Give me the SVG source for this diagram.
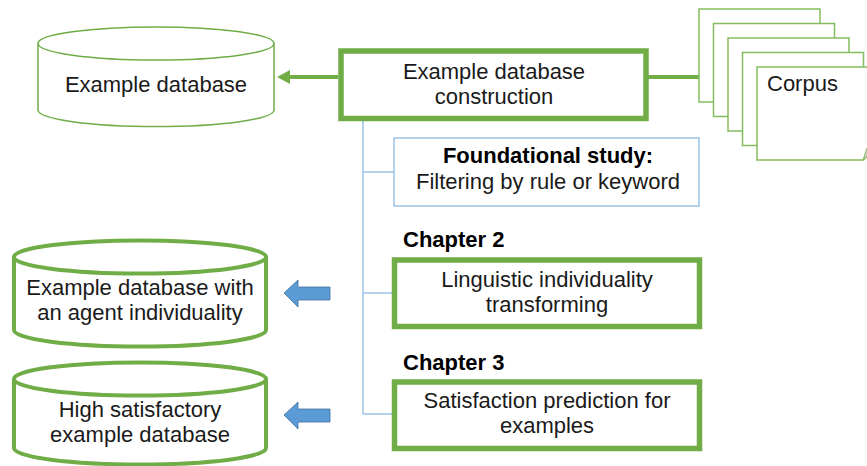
<svg xmlns="http://www.w3.org/2000/svg" width="867" height="466" viewBox="0 0 867 466">
  <style>
    text { font-family: "Liberation Sans", Arial, sans-serif; font-size: 22px; fill: #1a1a1a; }
    .c { text-anchor: middle; }
    .b { font-weight: bold; fill: #000; }
    .box { fill: #fff; stroke: #70AD47; stroke-width: 5.5; }
    .note { fill: #fff; stroke: #9DC3E6; stroke-width: 1.5; }
    .db-thin { fill: #fff; stroke: #70AD47; stroke-width: 1.5; }
    .db-thick { fill: #fff; stroke: #70AD47; stroke-width: 4; }
    .page { fill: #fff; stroke: #84BD5E; stroke-width: 1.5; }
    .tree { fill: none; stroke: #9DC3E6; stroke-width: 1.5; }
    .blk { fill: #5B9BD5; stroke: #41719C; stroke-width: 0.8; }
  </style>

  <!-- connectors -->
  <g id="connectors">
    <line x1="338" y1="77" x2="289" y2="77" stroke="#70AD47" stroke-width="4"/>
    <path d="M277,77 L290,70 L290,84 Z" fill="#70AD47"/>
    <line x1="646" y1="77" x2="700" y2="77" stroke="#70AD47" stroke-width="4"/>
    <path class="tree" d="M363,121 V414 M363,172 H394 M363,293 H392 M363,414 H392"/>
    <path class="blk" d="M284,293 L298,280 L298,287 L330,287 L330,300 L298,300 L298,307 Z"/>
    <path class="blk" d="M284,415 L298,402 L298,409 L330,409 L330,422 L298,422 L298,429 Z"/>
  </g>

  <!-- example database (top) -->
  <g id="db-example">
    <path class="db-thin" d="M38,43.5 V110 A118,16.5 0 0 0 274,110 V43.5"/>
    <ellipse class="db-thin" cx="156" cy="43.5" rx="118" ry="16.5"/>
    <text class="c" x="156" y="92">Example database</text>
  </g>

  <!-- construction step -->
  <g id="construction">
    <rect class="box" x="341" y="51" width="305" height="67.5"/>
    <text class="c" x="494" y="79">Example database</text>
    <text class="c" x="494" y="104">construction</text>
  </g>

  <!-- corpus document stack -->
  <g id="corpus">
    <rect class="page" x="699" y="9" width="121" height="93"/>
    <rect class="page" x="713.5" y="23.5" width="121" height="93"/>
    <rect class="page" x="728" y="38" width="121" height="93"/>
    <rect class="page" x="742.5" y="52.5" width="121" height="93"/>
    <path class="page" d="M757,67 H880 V146 L863,160 H757 Z"/>
    <path d="M863,160 L867,148 L880,146 Z" fill="#c9c9c9" stroke="#84BD5E" stroke-width="1"/>
    <text x="767" y="91">Corpus</text>
  </g>

  <!-- foundational study -->
  <g id="foundational">
    <rect class="note" x="394" y="138" width="305" height="68"/>
    <text class="c b" x="548" y="163">Foundational study:</text>
    <text class="c" x="548" y="189">Filtering by rule or keyword</text>
  </g>

  <!-- chapter 2 -->
  <g id="chapter2">
    <text class="b" x="403" y="247">Chapter 2</text>
    <rect class="box" x="394.5" y="260" width="305" height="66.5"/>
    <text class="c" x="547" y="287">Linguistic individuality</text>
    <text class="c" x="547" y="312">transforming</text>
  </g>

  <!-- chapter 3 -->
  <g id="chapter3">
    <text class="b" x="403" y="370">Chapter 3</text>
    <rect class="box" x="394.5" y="382" width="305" height="66.5"/>
    <text class="c" x="547" y="408">Satisfaction prediction for</text>
    <text class="c" x="547" y="433">examples</text>
  </g>

  <!-- database with agent individuality -->
  <g id="db-individuality">
    <path class="db-thick" d="M14,257 V330 A126,16.5 0 0 0 266,330 V257"/>
    <ellipse class="db-thick" cx="140" cy="257" rx="126" ry="16.5"/>
    <text class="c" x="140" y="295">Example database with</text>
    <text class="c" x="140" y="320">an agent individuality</text>
  </g>

  <!-- high satisfactory database -->
  <g id="db-satisfactory">
    <path class="db-thick" d="M14,379 V448 A126,16.5 0 0 0 266,448 V379"/>
    <ellipse class="db-thick" cx="140" cy="379" rx="126" ry="16.5"/>
    <text class="c" x="140" y="417">High satisfactory</text>
    <text class="c" x="140" y="442">example database</text>
  </g>
</svg>
